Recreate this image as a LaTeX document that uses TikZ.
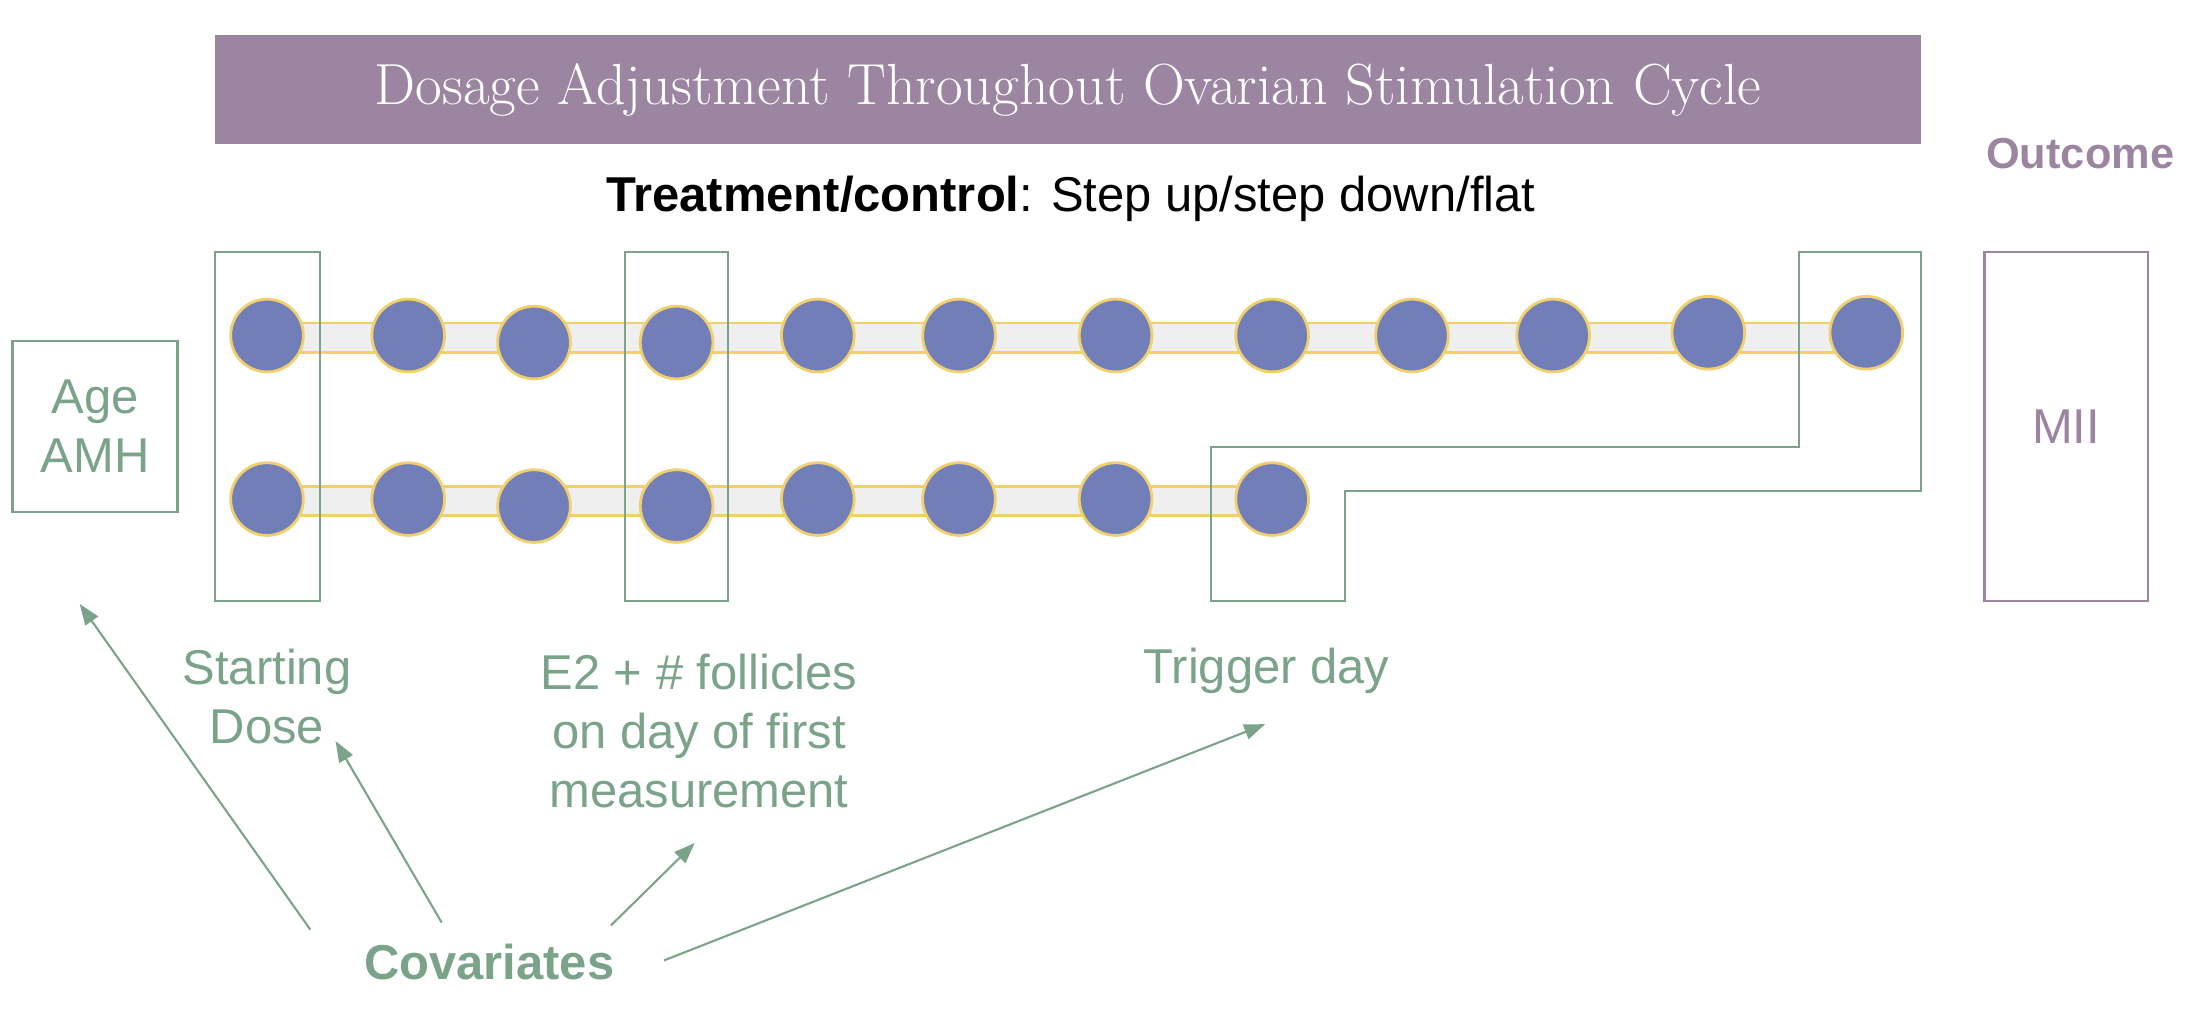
\documentclass[tikz,border=0pt]{standalone}
\usepackage{fontspec}
\setsansfont{Liberation Sans}
\usetikzlibrary{shapes, arrows, arrows.meta, positioning}
\definecolor{mauve}{HTML}{9C85A0}
\definecolor{sage}{HTML}{7AA38A}
\definecolor{dot}{HTML}{717EB8}
\definecolor{gold}{HTML}{F2CF6E}
\definecolor{track}{HTML}{EFEFEF}

\begin{document}
\begin{tikzpicture}[x=1pt, y=-1pt,
  day/.style={circle, draw=gold, line width=2pt, fill=dot, minimum size=52pt, inner sep=0pt},
  lbl/.style={text=sage, font=\sffamily\fontsize{35}{42}\selectfont, align=center},
  frame/.style={draw=sage, line width=1.6pt},
  cov/.style={draw=sage, line width=1.5pt, -{Triangle[length=15pt, width=11pt]}}]
 \useasboundingbox (0,0) rectangle (1568,737);
 % header
 \node[fill=mauve, minimum width=1220pt, minimum height=78pt, text=white,
   font=\fontsize{41.5}{44}\selectfont] (title) at (764,64) {Dosage Adjustment Throughout Ovarian Stimulation Cycle};
 \node[font=\sffamily\fontsize{35}{42}\selectfont] (treat) at (766,142) {\textbf{Treatment/control}: Step up/step down/flat};
 \node[text=mauve, font=\sffamily\bfseries\fontsize{31}{36}\selectfont] (outc) at (1488,110) {Outcome};
 % tracks
 \filldraw[fill=track, draw=gold, line width=2pt] (191,231) rectangle (1335,252);
 \filldraw[fill=track, draw=gold, line width=2pt] (191,348) rectangle (910,369);
 \foreach \x/\y [count=\i] in {191/240, 292/240, 382/245, 484/245, 585/240, 686/240, 798/240, 910/240, 1010/240, 1111/240, 1222/238, 1335/238}
  \node[day] (t\i) at (\x,\y) {};
 \foreach \x/\y [count=\i] in {191/357, 292/357, 382/362, 484/362, 585/357, 686/357, 798/357, 910/357}
  \node[day] (b\i) at (\x,\y) {};
 % frames
 \draw[frame] (154,180) rectangle (229,430);
 \draw[frame] (447,180) rectangle (521,430);
 \draw[frame] (1287,180) -- (1374,180) -- (1374,351) -- (962,351) -- (962,430) -- (866,430) -- (866,320) -- (1287,320) -- cycle;
 \node[lbl, frame, minimum width=118pt, minimum height=122pt] (age) at (68,305) {Age\\AMH};
 \node[draw=mauve, line width=1.6pt, text=mauve, font=\sffamily\fontsize{35}{42}\selectfont,
   minimum width=117pt, minimum height=250pt] (mii) at (1478,305) {MII};
 % labels
 \node[lbl] (dose) at (191,498) {Starting\\Dose};
 \node[lbl] (meas) at (500,523) {E2 + \# follicles\\on day of first\\measurement};
 \node[lbl] (trig) at (906,480) {Trigger day};
 \node[lbl, font=\sffamily\bfseries\fontsize{35}{42}\selectfont] (covar) at (350,688) {Covariates};
 % covariate arrows
 \coordinate (c1) at (222,665);
 \coordinate (c2) at (316,660);
 \coordinate (c3) at (437,662);
 \coordinate (c4) at (475,687);
 \coordinate (e1) at (57,432);
 \coordinate (e2) at (240,530);
 \coordinate (e3) at (497,603);
 \coordinate (e4) at (905,518);
 \draw[cov] (c1) -- (e1);
 \draw[cov] (c2) -- (e2);
 \draw[cov] (c3) -- (e3);
 \draw[cov] (c4) -- (e4);
\end{tikzpicture}
\end{document}
